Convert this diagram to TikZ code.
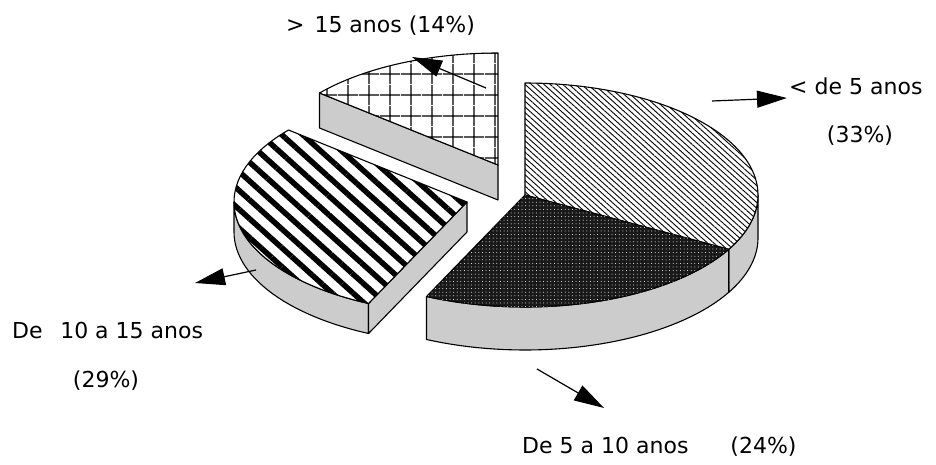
\documentclass[tikz,border=0pt]{standalone}
\usepackage{fontspec}
\setmainfont{DejaVu Sans}
\usetikzlibrary{patterns.meta,arrows.meta}
\begin{document}
\begin{tikzpicture}[x=1pt,y=-1pt,
  outline/.style={draw=black,line width=1.1pt,line join=round},
  sidefill/.style={outline,fill=black!20},
  finehatch/.style={outline,preaction={fill=white},pattern={Lines[angle=-42,distance=4.2pt,line width=0.9pt]}},
  bigstripes/.style={outline,preaction={fill=white},pattern={Lines[angle=-42,distance=14pt,line width=5.5pt]}},
  gridfill/.style={outline,preaction={fill=white},pattern={Hatch[angle=0,distance=20.5pt,line width=1.3pt]}},
  darkfill/.style={outline,fill=black!90,postaction={pattern={Dots[distance=3.6pt,radius=0.5pt]},pattern color=white}},
  lbl/.style={inner sep=0pt,font=\fontsize{22}{26}\selectfont},
  ptr/.style={line width=1.2pt,-{Triangle[length=30pt,width=17pt]}}]

\useasboundingbox (0,0) rectangle (936,465);

% ---- slice 14% (> 15 anos), exploded back-left
\coordinate (cD) at (498,165);
\path[sidefill] (cD) -- ({498+233*cos(220)},{165+112*sin(220)}) -- ++(0,35) -- (498,200) -- cycle;
\path[gridfill] (cD) -- plot[domain=220:270,samples=30,variable=\t] ({498+233*cos(\t)},{165+112*sin(\t)}) -- cycle;

% ---- slice 29% (De 10 a 15 anos), exploded left
\coordinate (cC) at (467,202);
\path[sidefill] plot[domain=115:180,samples=30,variable=\t] ({467+233*cos(\t)},{202+112*sin(\t)})
   -- plot[domain=180:115,samples=30,variable=\t] ({467+233*cos(\t)},{232+112*sin(\t)}) -- cycle;
\path[sidefill] (cC) -- ({467+233*cos(115)},{202+112*sin(115)}) -- ++(0,30) -- (467,232) -- cycle;
\path[bigstripes] (cC) -- plot[domain=115:220,samples=40,variable=\t] ({467+233*cos(\t)},{202+112*sin(\t)}) -- cycle;

% ---- slice 33% (< de 5 anos)
\coordinate (cA) at (525,195);
\path[sidefill] plot[domain=0:29,samples=20,variable=\t] ({525+233*cos(\t)},{195+112*sin(\t)})
   -- plot[domain=29:0,samples=20,variable=\t] ({525+233*cos(\t)},{238+112*sin(\t)}) -- cycle;
\path[finehatch] (cA) -- plot[domain=-90:29,samples=60,variable=\t] ({525+233*cos(\t)},{195+112*sin(\t)}) -- cycle;

% ---- slice 24% (De 5 a 10 anos)
\path[sidefill] plot[domain=29:115,samples=40,variable=\t] ({525+233*cos(\t)},{195+112*sin(\t)})
   -- plot[domain=115:29,samples=40,variable=\t] ({525+233*cos(\t)},{238+112*sin(\t)}) -- cycle;
\path[darkfill] (cA) -- plot[domain=29:115,samples=40,variable=\t] ({525+233*cos(\t)},{195+112*sin(\t)}) -- cycle;

% ---- labels
\node[lbl,anchor=base west] (l14) at (286,33) {>\hspace{0.45em}15 anos (14\%)};
\node[lbl,anchor=base west] (l5a) at (789,95) {< de 5 anos};
\node[lbl,anchor=base] (l5b) at (860,143) {(33\%)};
\node[lbl,anchor=base west] (l10a) at (12,338) {De\hspace{0.8em}10 a 15 anos};
\node[lbl,anchor=base] (l10b) at (106,387) {(29\%)};
\node[lbl,anchor=base west] (l510) at (522,453) {De 5 a 10 anos\hspace{42pt}(24\%)};

% ---- pointers
\coordinate (p1s) at (486,88);  \coordinate (p1e) at (412,57);
\coordinate (p2s) at (712,101); \coordinate (p2e) at (787,98);
\coordinate (p3s) at (256,270); \coordinate (p3e) at (195,283);
\coordinate (p4s) at (537,369); \coordinate (p4e) at (604,408);
\draw[ptr] (p1s) -- (p1e);
\draw[ptr] (p2s) -- (p2e);
\draw[ptr] (p3s) -- (p3e);
\draw[ptr] (p4s) -- (p4e);
\end{tikzpicture}
\end{document}
